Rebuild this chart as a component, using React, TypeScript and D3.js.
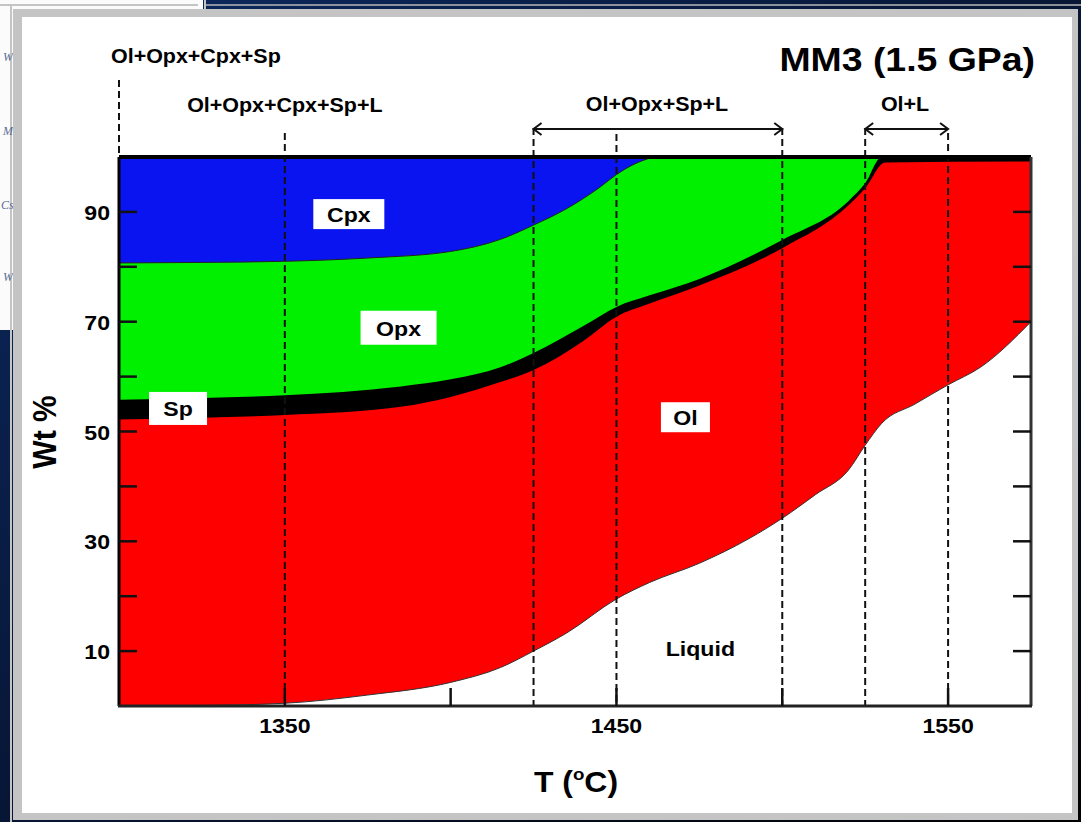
import React from "react";
import * as d3 from "d3";

// ---- data (T in °C, composition in wt %) ----
const liquidusT = [1300, 1325, 1350, 1375, 1400, 1415, 1425, 1435, 1450, 1460, 1475, 1490, 1500, 1510, 1520, 1525, 1530, 1540, 1550, 1560, 1575];
const liquidusWt = [0, 0.1, 0.5, 2, 4.3, 7, 10, 13.3, 19.5, 22.5, 26, 30.5, 34.2, 38.5, 43, 47.5, 51.5, 55, 58.5, 61.8, 70];

const olTopT = [1300, 1325, 1350, 1385, 1400, 1415, 1425, 1440, 1450, 1460, 1475, 1500, 1520, 1525, 1531, 1575];
const olTopWt = [52.2, 52.5, 53, 54.5, 56.3, 59, 61.2, 66.5, 70.9, 73.3, 76.6, 83.4, 91.2, 94.3, 99.0, 99.2];

const spTopT = [1300, 1325, 1350, 1385, 1400, 1415, 1425, 1440, 1450, 1460, 1475, 1500, 1520, 1525, 1530, 1575];
const spTopWt = [55.8, 56.1, 56.6, 58.2, 59.5, 61.7, 64.3, 69.2, 72.7, 74.8, 77.8, 84.9, 92, 95.2, 100, 100];

const opxTopT = [1300, 1325, 1350, 1375, 1400, 1415, 1425, 1435, 1445, 1450, 1455, 1461];
const opxTopWt = [80.7, 80.8, 81, 81.6, 82.8, 85, 87.6, 90.6, 94.5, 96.8, 98.6, 100];

const yMajorTicks = [10, 30, 50, 70, 90];
const yAllTicks = [10, 20, 30, 40, 50, 60, 70, 80, 90];
const xLabelTicks = [1350, 1450, 1550];
const xAllTicks = [1350, 1400, 1450, 1500, 1550];

const boundaryT = [1300, 1350, 1425, 1450, 1500, 1525, 1550];
const assemblageLabels = ["Ol+Opx+Cpx+Sp", "Ol+Opx+Cpx+Sp+L", "Ol+Opx+Sp+L", "Ol+L"];
const phaseNames = ["Cpx", "Opx", "Sp", "Ol"];

const FONT = "'Liberation Sans', Arial, Helvetica, sans-serif";

function SText(props: any) {
  const { x, y, anchor = "middle", size = 20, children, sx = 1.1, weight = "bold", fill = "#000" } = props;
  return (
    <g transform={`translate(${x},${y}) scale(${sx},1)`}>
      <text textAnchor={anchor} fontSize={size} fontWeight={weight} fontFamily={FONT} fill={fill}>
        {children}
      </text>
    </g>
  );
}

export default function App() {
  const x = d3.scaleLinear().domain([1300, 1575]).range([119, 1031]);
  const y = d3.scaleLinear().domain([0, 100]).range([706, 157]);

  const zip = (ts: number[], ws: number[]) => ts.map((t, i) => [t, ws[i]] as [number, number]);
  const areaToTop = d3
    .area<[number, number]>()
    .x((d) => x(d[0]))
    .y0((d) => y(d[1]))
    .y1(() => y(100))
    .curve(d3.curveMonotoneX);
  const line = d3
    .line<[number, number]>()
    .x((d) => x(d[0]))
    .y((d) => y(d[1]))
    .curve(d3.curveMonotoneX);

  const liq = zip(liquidusT, liquidusWt);
  const ol = zip(olTopT, olTopWt);
  const sp = zip(spTopT, spTopWt);
  const opx = zip(opxTopT, opxTopWt);

  const dashTop: Record<number, number> = { 1300: 80, 1350: 133, 1425: 128, 1450: 134, 1500: 128, 1525: 128, 1550: 133 };

  const arrow = (t1: number, t2: number, yy: number) => {
    const a = x(t1), b = x(t2);
    return (
      <g stroke="#111" strokeWidth={2} fill="none">
        <line x1={a} x2={b} y1={yy} y2={yy} />
        <polyline points={`${a + 8},${yy - 6} ${a},${yy} ${a + 8},${yy + 6}`} />
        <polyline points={`${b - 8},${yy - 6} ${b},${yy} ${b - 8},${yy + 6}`} />
      </g>
    );
  };

  const box = (label: string, t: number, w: number, bw: number, bh: number) => (
    <g key={label}>
      <rect x={x(t) - bw / 2} y={y(w) - bh / 2} width={bw} height={bh} fill="#fff" />
      <SText x={x(t)} y={y(w) + 8} size={21}>{label}</SText>
    </g>
  );

  return (
    <svg width={1081} height={822} style={{ position: "absolute", left: 0, top: 0 }}>
      <defs>
        <linearGradient id="bg" x1="0" y1="0" x2="1" y2="1">
          <stop offset="0" stopColor="#0c2a62" />
          <stop offset="0.6" stopColor="#06122c" />
          <stop offset="1" stopColor="#000" />
        </linearGradient>
      </defs>
      {/* background slide frame */}
      <rect x={0} y={0} width={1081} height={822} fill="url(#bg)" />
      <rect x={0} y={0} width={203} height={330} fill="#fbfbfb" />
      <line x1={0} x2={198} y1={5} y2={5} stroke="#c4c4c4" strokeWidth={2} />
      <line x1={11} x2={11} y1={5} y2={822} stroke="#c4c4c4" strokeWidth={2} />
      <line x1={206} x2={1081} y1={5} y2={5} stroke="#b8b8b8" strokeWidth={1.5} />
      <line x1={205} x2={205} y1={0} y2={10} stroke="#c4c4c4" strokeWidth={2} />
      <g fontFamily="'Liberation Serif', serif" fontStyle="italic" fontSize={12} fill="#5a6d92">
        <text x={3} y={61}>W</text>
        <text x={3} y={135}>M</text>
        <text x={1} y={209}>Cs</text>
        <text x={3} y={281}>W</text>
      </g>
      <rect x={13} y={9} width={1065} height={811} fill="#c4c4c4" />
      <rect x={22} y={17} width={1050} height={796} fill="#fff" />

      {/* phase fields */}
      <path d={areaToTop(liq) || ""} fill="#ff0000" />
      <path d={areaToTop(ol) || ""} fill="#000" />
      <path d={areaToTop(sp) || ""} fill="#00f000" />
      <path d={areaToTop(opx) || ""} fill="#0a14f0" />
      <path d={line(liq) || ""} fill="none" stroke="#333" strokeWidth={1} />
      <path d={line(opx) || ""} fill="none" stroke="#222" strokeWidth={1} />

      {/* dashed phase boundaries */}
      {boundaryT.map((t) => (
        <line key={t} x1={x(t)} x2={x(t)} y1={dashTop[t]} y2={y(0)} stroke="#111" strokeWidth={2} strokeDasharray="7,4" />
      ))}
      {arrow(1425, 1500, 129)}
      {arrow(1525, 1550, 129)}

      {/* axes frame */}
      <line x1={x(1300)} x2={x(1575)} y1={y(100)} y2={y(100)} stroke="#000" strokeWidth={4} />
      <line x1={x(1300)} x2={x(1300)} y1={y(100)} y2={y(0)} stroke="#000" strokeWidth={3} />
      <line x1={x(1575)} x2={x(1575)} y1={y(100)} y2={y(0)} stroke="#333" strokeWidth={3} />
      <line x1={x(1300) - 1} x2={x(1575) + 1} y1={y(0)} y2={y(0)} stroke="#222" strokeWidth={3} />
      {yAllTicks.map((v) => (
        <g key={v} stroke="#111" strokeWidth={2.5}>
          <line x1={x(1300)} x2={x(1300) + 18} y1={y(v)} y2={y(v)} />
          <line x1={x(1575) - 18} x2={x(1575)} y1={y(v)} y2={y(v)} />
        </g>
      ))}
      {xAllTicks.map((t) => (
        <line key={t} x1={x(t)} x2={x(t)} y1={y(0)} y2={y(0) - 18} stroke="#111" strokeWidth={2.5} />
      ))}
      {yMajorTicks.map((v) => (
        <SText key={v} x={110} y={y(v) + 8} anchor="end" size={21}>{v}</SText>
      ))}
      {xLabelTicks.map((t) => (
        <SText key={t} x={x(t)} y={733} size={21}>{t}</SText>
      ))}

      {/* axis titles */}
      <g transform={`translate(56,432) scale(1.1,1) rotate(-90)`}>
        <text textAnchor="middle" fontSize={30} fontWeight="bold" fontFamily={FONT}>Wt %</text>
      </g>
      <g transform={`translate(576,792) scale(1.1,1)`}>
        <text textAnchor="middle" fontSize={29} fontWeight="bold" fontFamily={FONT}>
          T (<tspan fontSize={17} dy={-12}>o</tspan><tspan dy={12}>C)</tspan>
        </text>
      </g>

      {/* title and assemblage labels */}
      <SText x={1035} y={71} anchor="end" size={34}>MM3 (1.5 GPa)</SText>
      <SText x={111} y={63} anchor="start" size={19.5}>{assemblageLabels[0]}</SText>
      <SText x={x(1350)} y={112} size={19.5}>{assemblageLabels[1]}</SText>
      <SText x={657} y={111} size={19.5}>{assemblageLabels[2]}</SText>
      <SText x={905} y={111} size={19.5}>{assemblageLabels[3]}</SText>

      {/* phase field labels */}
      {box(phaseNames[0], 1369.3, 89.6, 71, 30)}
      {box(phaseNames[1], 1384.3, 68.9, 76, 34)}
      {box(phaseNames[2], 1317.8, 54.2, 58, 33)}
      {box(phaseNames[3], 1470.8, 52.6, 49, 30)}
      <SText x={x(1475.3)} y={y(10.6) + 8} size={21}>Liquid</SText>
    </svg>
  );
}
